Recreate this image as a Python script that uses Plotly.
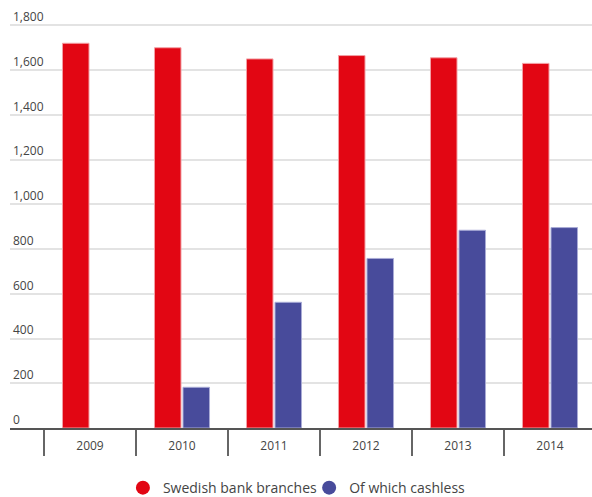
import plotly.graph_objects as go

# Swedish bank branches and the cashless ones among them
years = [2009, 2010, 2011, 2012, 2013, 2014]
branches = [1720, 1700, 1650, 1665, 1655, 1630]
cashless = [None, 182, 562, 758, 884, 896]
year_labels = ["2009", "2010", "2011", "2012", "2013", "2014"]
y_ticks = [0, 200, 400, 600, 800, 1000, 1200, 1400, 1600, 1800]
y_tick_labels = ["0", "200", "400", "600", "800", "1,000", "1,200", "1,400", "1,600", "1,800"]

RED = "#E20613"
BLUE = "#484B9B"
FONT = "Open Sans"

fig = go.Figure()
fig.add_trace(go.Bar(
    x=years, y=branches, name="Swedish bank branches",
    marker=dict(color=RED, line=dict(color="#F3A0A5", width=1)),
    showlegend=False, hoverinfo="x+y",
))
fig.add_trace(go.Bar(
    x=years, y=cashless, name="Of which cashless",
    marker=dict(color=BLUE, line=dict(color="#A9ABD6", width=1)),
    showlegend=False, hoverinfo="x+y",
))
# round legend entries, one small legend each
for name, col, leg in [("Swedish bank branches", RED, "legend"),
                       ("Of which cashless", BLUE, "legend2")]:
    fig.add_trace(go.Scatter(
        x=[None], y=[None], mode="markers", name=name, legend=leg,
        marker=dict(color=col, size=14, symbol="circle"),
    ))

boundaries = [y - 0.5 for y in years]
legend_style = dict(orientation="h", yref="container", y=0.018, yanchor="middle",
                    xanchor="left", font=dict(size=14, color="#444"),
                    bgcolor="rgba(0,0,0,0)")

fig.update_layout(
    width=592, height=497,
    margin=dict(l=10, r=0, t=3, b=69, autoexpand=False),
    paper_bgcolor="white", plot_bgcolor="white",
    barmode="group", bargap=0.38, bargroupgap=0.07,
    font=dict(family=FONT, size=12, color="#444"),
    legend=dict(x=0.194, **legend_style),
    legend2=dict(x=0.514, **legend_style),
    xaxis=dict(
        range=[2009 - 80 / 92, 2014 + 42 / 92],
        tickvals=years, ticktext=year_labels, ticks="", ticklabelstandoff=6,
        showgrid=False, zeroline=False,
        showline=True, linecolor="#555", linewidth=1.5,
        tickfont=dict(size=12, color="#444"),
        minor=dict(tickvals=boundaries, ticks="outside", ticklen=26,
                   tickcolor="#666", tickwidth=1.5, showgrid=False),
    ),
    yaxis=dict(
        range=[0, 1900], tickvals=y_ticks, ticktext=y_tick_labels,
        ticklabelposition="inside top", ticks="",
        showgrid=True, gridcolor="#E3E3E3", gridwidth=1.5,
        zeroline=False, showline=False,
        tickfont=dict(size=12, color="#444"),
    ),
)

fig.write_html("out.html")
